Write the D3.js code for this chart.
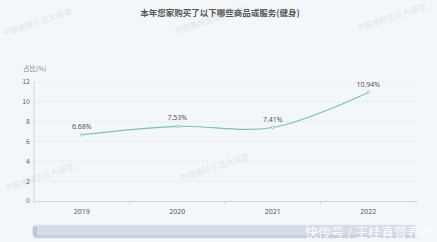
<!DOCTYPE html>
<html><head><meta charset="utf-8">
<script src="https://cdn.jsdelivr.net/npm/d3@7"></script>
<style>
html,body{margin:0;padding:0;background:#f3f7fa;}
svg{display:block;font-family:"Noto Sans CJK SC","Noto Sans",sans-serif;}
</style></head><body>
<svg id="c" width="437" height="242"></svg>
<script>
const categories = ["2019","2020","2021","2022"];
const values = [6.68, 7.53, 7.41, 10.94];
const yTicks = [0,2,4,6,8,10,12];
const title = "本年您家购买了以下哪些商品或服务(健身)";
const yName = "占比(%)";
const watermark = "中国美好生活大调查";
const credit = "快传号 / 王桂真营养师";

const svg = d3.select("#c");
const W = 437, H = 242;
const m = {l:34, r:21, t:82, b:41};
const x = d3.scaleBand().domain(categories).range([m.l, W - m.r]);
const y = d3.scaleLinear().domain([0,12]).range([H - m.b, m.t]);

svg.append("rect").attr("width",W).attr("height",H).attr("fill","#f3f7fa");

// watermarks
const wm = [[38,25],[210,23],[392,20],[40,180],[215,170]];
svg.append("g").selectAll("text").data(wm).join("text")
  .attr("transform",d=>`translate(${d[0]},${d[1]}) rotate(-18)`)
  .attr("text-anchor","middle").attr("font-size",8).attr("fill","#dfe4ea")
  .text(watermark);

// title
svg.append("text").attr("x",220).attr("y",16).attr("text-anchor","middle")
  .attr("font-size",8.5).attr("font-weight","bold").attr("fill","#555").text(title);

// grid
svg.append("g").selectAll("line").data(yTicks.filter(d=>d>0)).join("line")
  .attr("x1",m.l).attr("x2",W-m.r).attr("y1",d=>y(d)).attr("y2",d=>y(d))
  .attr("stroke","#dcdfe4").attr("stroke-dasharray","2,2").attr("stroke-width",0.8);

// y axis labels
svg.append("g").selectAll("text").data(yTicks).join("text")
  .attr("x",m.l-4).attr("y",d=>y(d)).attr("dy","0.35em").attr("text-anchor","end")
  .attr("font-size",7).attr("fill","#666").text(d=>d);
svg.append("line").attr("x1",m.l).attr("x2",m.l).attr("y1",y(12)).attr("y2",y(0))
  .attr("stroke","#c8ccd2").attr("stroke-width",0.8);
svg.append("text").attr("x",23).attr("y",71).attr("font-size",6.5).attr("fill","#888").text(yName);

// x axis
const xa = svg.append("g").attr("transform",`translate(0,${y(0)})`)
  .call(d3.axisBottom(x).tickSize(0).tickPadding(8));
xa.select(".domain").attr("stroke","#c8ccd2").attr("stroke-width",0.8);
xa.selectAll("text").attr("font-size",7).attr("fill","#555").attr("font-family","'Noto Sans',sans-serif");
const bounds = categories.map(c=>x(c)+x.bandwidth()).slice(0);
svg.append("g").selectAll("line").data([m.l].concat(bounds)).join("line")
  .attr("x1",d=>d).attr("x2",d=>d).attr("y1",y(0)).attr("y2",y(0)+3)
  .attr("stroke","#c8ccd2").attr("stroke-width",0.8);

// line
const pts = categories.map((c,i)=>[x(c)+x.bandwidth()/2, y(values[i])]);
svg.append("path").attr("d",d3.line().curve(d3.curveCatmullRom.alpha(0.5))(pts))
  .attr("fill","none").attr("stroke","#7cc2ab").attr("stroke-width",1.2);
svg.append("g").selectAll("circle").data(pts).join("circle")
  .attr("cx",d=>d[0]).attr("cy",d=>d[1]).attr("r",1.3)
  .attr("fill","#fff").attr("stroke","#7cc2ab").attr("stroke-width",0.8);
svg.append("g").selectAll("text").data(categories).join("text")
  .attr("x",c=>x(c)+x.bandwidth()/2).attr("y",(c,i)=>y(values[i])-6)
  .attr("text-anchor","middle").attr("font-size",7).attr("fill","#555")
  .attr("font-family","'Noto Sans',sans-serif")
  .text((c,i)=>values[i].toFixed(2)+"%");

// data zoom slider
svg.append("rect").attr("x",m.l).attr("y",225).attr("width",W-m.r-m.l).attr("height",13)
  .attr("fill","#d5dce7").attr("stroke","#e3e7ee").attr("stroke-width",0.6);
svg.append("rect").attr("x",m.l).attr("y",235).attr("width",W-m.r-m.l).attr("height",3)
  .attr("fill","#c9d0dc");
svg.append("rect").attr("x",m.l-1).attr("y",227).attr("width",3.5).attr("height",8)
  .attr("fill","#c2c9d4").attr("stroke","#aab2be").attr("stroke-width",0.5);

// credit
svg.append("text").attr("x",433).attr("y",237).attr("text-anchor","end")
  .attr("font-size",13).attr("fill","#ffffff").attr("fill-opacity",0.92).text(credit);
</script></body></html>
